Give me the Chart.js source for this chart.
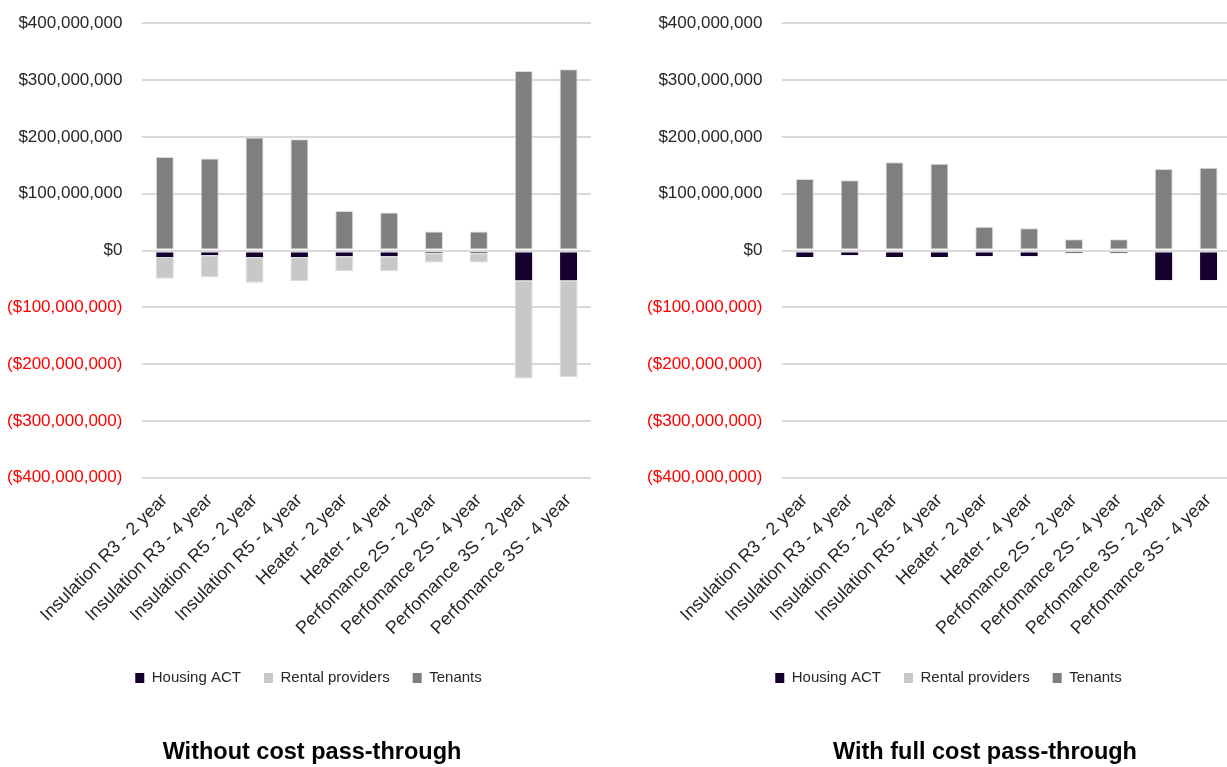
<!DOCTYPE html>
<html>
<head>
<meta charset="utf-8">
<script src="https://cdn.jsdelivr.net/npm/chart.js@4"></script>
<style>
  html, body { margin: 0; padding: 0; background: #fff; overflow: hidden; }
  body { width: 1227px; height: 767px; position: relative; }
  .box { position: absolute; top: 0; width: 600px; height: 767px; }
  .title { position: absolute; top: 738px; width: 420px; text-align: center;
           font: bold 23.5px "Liberation Sans", Arial, sans-serif; line-height: 27px; color: #000; }
</style>
</head>
<body>
<div class="box" style="left:0px"><canvas id="chartLeft"></canvas></div>
<div class="box" style="left:640px"><canvas id="chartRight"></canvas></div>
<div class="title" style="left:102px">Without cost pass-through</div>
<div class="title" style="left:775px">With full cost pass-through</div>
<script>
// categories (x axis)
var categories = [
    'Insulation R3 - 2 year', 'Insulation R3 - 4 year',
    'Insulation R5 - 2 year', 'Insulation R5 - 4 year',
    'Heater - 2 year', 'Heater - 4 year',
    'Perfomance 2S - 2 year', 'Perfomance 2S - 4 year',
    'Perfomance 3S - 2 year', 'Perfomance 3S - 4 year'
];

// values in millions of dollars
// without cost pass-through
var housingNoPass = [-11.4, -8.5, -12, -12, -10, -10, -5, -5, -53, -53];
var rentalNoPass  = [-38.2, -38.7, -44.6, -42.3, -26.4, -26.4, -16, -16, -172.5, -169.5];
var tenantsNoPass = [164.7, 161.8, 198.8, 195.9, 69.4, 67, 33.5, 33.5, 316, 319];

// with full cost pass-through (rental providers carry nothing)
var housingPass = [-11.4, -8.5, -11.4, -11.4, -10, -10, -5, -5, -52.5, -52.5];
var rentalPass  = [null, null, null, null, null, null, null, null, null, null];
var tenantsPass = [125.9, 123.6, 155.3, 152.8, 41.7, 39.3, 19.6, 19.6, 143.5, 145.8];

// y axis ticks (millions)
var yMin = -400, yMax = 400, yStep = 100;

var seriesNames = ['Housing ACT', 'Rental providers', 'Tenants'];
var seriesColors = ['#15002f', '#c8c8c8', '#7f7f7f'];

var FONT = '"Liberation Sans", Arial, sans-serif';

function money(v) {
    var s = '$' + Math.abs(Math.round(v * 1e6)).toLocaleString('en-US');
    return v < 0 ? '(' + s + ')' : s;
}

// legend sits a bit right of the canvas centre in the original
var shiftLegend = {
    id: 'shiftLegend',
    afterLayout: function (chart) {
        chart.legend.left += 13;
        chart.legend.right += 13;
    }
};

function makeChart(id, housing, rental, tenants) {
    var values = [housing, rental, tenants];
    var borders = [
        { top: 1, left: 0.5, right: 0.5, bottom: 0 },
        1,
        1
    ];
    var datasets = seriesNames.map(function (name, i) {
        return {
            label: name,
            data: values[i],
            backgroundColor: seriesColors[i],
            borderColor: '#dcdcdc',
            borderWidth: borders[i],
            borderSkipped: false,
            barPercentage: 0.4,
            categoryPercentage: 1.0
        };
    });

    return new Chart(document.getElementById(id).getContext('2d'), {
        type: 'bar',
        data: { labels: categories, datasets: datasets },
        plugins: [shiftLegend],
        options: {
            responsive: true,
            maintainAspectRatio: false,
            animation: false,
            layout: { padding: { top: 23.3, left: 0, right: 9, bottom: 71.5 } },
            plugins: {
                tooltip: { enabled: false },
                legend: {
                    position: 'bottom',
                    labels: {
                        boxWidth: 9,
                        boxHeight: 10,
                        padding: 23,
                        color: '#262626',
                        font: { family: FONT, size: 15 },
                        generateLabels: function (chart) {
                            var items = Chart.defaults.plugins.legend.labels.generateLabels(chart);
                            items.forEach(function (it) { it.lineWidth = 0; });
                            return items;
                        }
                    }
                }
            },
            scales: {
                x: {
                    stacked: true,
                    grid: { display: false },
                    border: { display: false },
                    ticks: {
                        autoSkip: false,
                        minRotation: 45,
                        maxRotation: 45,
                        padding: 4,
                        color: '#262626',
                        font: { family: FONT, size: 18 }
                    },
                    afterFit: function (scale) { scale.height = 169.8; }
                },
                y: {
                    stacked: true,
                    min: yMin,
                    max: yMax,
                    grid: { color: '#d9d9d9', lineWidth: 2, drawTicks: true, tickLength: 20, tickColor: 'rgba(0,0,0,0)' },
                    border: { display: false },
                    ticks: {
                        stepSize: yStep,
                        padding: 0,
                        font: { family: FONT, size: 17 },
                        color: function (ctx) { return ctx.tick.value < 0 ? '#ff0000' : '#262626'; },
                        callback: function (v) { return money(v); }
                    },
                    afterFit: function (scale) { scale.width = 142.4; }
                }
            }
        }
    });
}

makeChart('chartLeft', housingNoPass, rentalNoPass, tenantsNoPass);
makeChart('chartRight', housingPass, rentalPass, tenantsPass);
</script>
</body>
</html>
